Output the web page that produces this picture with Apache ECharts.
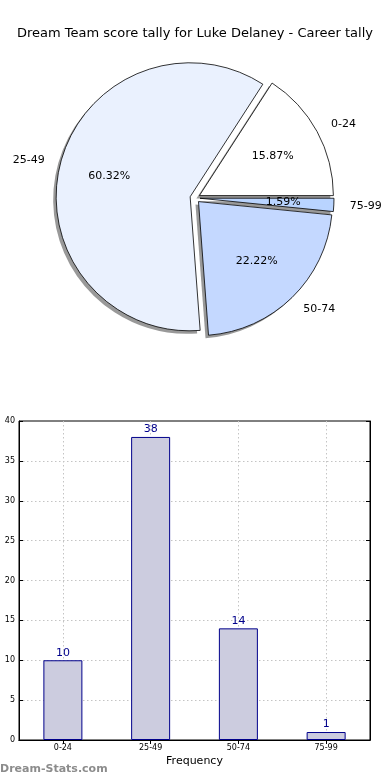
<!DOCTYPE html>
<html>
<head>
<meta charset="utf-8">
<script src="https://cdn.jsdelivr.net/npm/echarts@6/dist/echarts.min.js"></script>
<style>
html,body{margin:0;padding:0;background:#fff;}
#main{width:390px;height:780px;}
</style>
</head>
<body>
<div id="main"></div>
<script>
var titleText = 'Dream Team score tally for Luke Delaney - Career tally';
var categories = ['0-24', '25-49', '50-74', '75-99'];
var counts = [10, 38, 14, 1];
var sliceColors = ['#ffffff', '#eaf1fe', '#c4d8ff', '#b9d4ff'];
var yTicks = [0, 5, 10, 15, 20, 25, 30, 35, 40];
var xAxisName = 'Frequency';
var watermark = 'Dream-Stats.com';

var total = counts.reduce(function (a, b) { return a + b; }, 0);
var font = 'DejaVu Sans';
var R = 134;
var C = [195, 198];

function pieItems(withColor) {
  return categories.map(function (c, i) {
    var d = { name: c, value: counts[i], selected: true };
    if (withColor) d.itemStyle = { color: sliceColors[i] };
    return d;
  });
}

var pieBase = {
  type: 'pie',
  startAngle: 0,
  clockwise: false,
  selectedMode: 'multiple',
  selectedOffset: 5,
  avoidLabelOverlap: false,
  silent: true,
  emphasis: { disabled: true }
};

var chart = echarts.init(document.getElementById('main'), null, { renderer: 'canvas' });
chart.setOption({
  animation: false,
  backgroundColor: '#ffffff',
  title: {
    text: titleText,
    left: 'center',
    top: 22,
    textStyle: { fontFamily: font, fontSize: 13, fontWeight: 'normal', color: '#000' }
  },
  graphic: [{
    type: 'text', left: 0, top: 764,
    style: { text: watermark, fontFamily: font, fontSize: 11, fontWeight: 'bold', fill: '#8c8c8c' }
  }],
  grid: { left: 19, right: 20, top: 421, bottom: 40, show: true, borderColor: '#000', borderWidth: 1, backgroundColor: 'transparent' },
  xAxis: [{
    type: 'category',
    data: categories,
    boundaryGap: true,
    axisLine: { show: true, lineStyle: { color: '#000', width: 1 } },
    axisTick: { show: true, alignWithLabel: true, inside: true, length: 4, lineStyle: { color: '#000' } },
    axisLabel: { fontFamily: font, fontSize: 8, color: '#000', margin: 4 },
    splitLine: { show: true, alignWithLabel: true, lineStyle: { color: '#c4c4c4', type: [1.5, 2.5], width: 1 } },
    name: xAxisName,
    nameLocation: 'middle',
    nameGap: 16,
    nameTextStyle: { fontFamily: font, fontSize: 11, color: '#000' }
  }, {
    type: 'category',
    data: categories,
    position: 'top',
    boundaryGap: true,
    axisLine: { show: true, lineStyle: { color: '#000', width: 1 } },
    axisTick: { show: true, alignWithLabel: true, inside: true, length: 4, lineStyle: { color: '#000' } },
    axisLabel: { show: false },
    splitLine: { show: false }
  }],
  yAxis: [{
    type: 'value',
    min: yTicks[0],
    max: yTicks[yTicks.length - 1],
    interval: yTicks[1] - yTicks[0],
    axisLine: { show: true, lineStyle: { color: '#000', width: 1 } },
    axisTick: { show: true, inside: true, length: 4, lineStyle: { color: '#000' } },
    axisLabel: { fontFamily: font, fontSize: 8, color: '#000', margin: 4 },
    splitLine: { show: true, showMaxLine: false, showMinLine: false, lineStyle: { color: '#c4c4c4', type: [1.5, 2.5], width: 1 } }
  }, {
    type: 'value',
    position: 'right',
    min: yTicks[0],
    max: yTicks[yTicks.length - 1],
    interval: yTicks[1] - yTicks[0],
    axisLine: { show: true, lineStyle: { color: '#000', width: 1 } },
    axisTick: { show: true, inside: true, length: 4, lineStyle: { color: '#000' } },
    axisLabel: { show: false },
    splitLine: { show: false }
  }],
  series: [
    Object.assign({}, pieBase, {
      name: 'shadow',
      center: [C[0] - 3, C[1] + 3],
      radius: [0, R],
      itemStyle: { color: 'rgba(70,70,70,0.55)', borderWidth: 0 },
      label: { show: false },
      labelLine: { show: false },
      data: pieItems(false)
    }),
    Object.assign({}, pieBase, {
      name: 'slices',
      center: C,
      radius: [0, R],
      itemStyle: { borderColor: '#000', borderWidth: 0.8 },
      label: {
        show: true, position: 'outside', formatter: '{b}',
        fontFamily: font, fontSize: 11, color: '#000', distanceToLabelLine: 0
      },
      labelLine: { show: false, length: 16, length2: 0 },
      data: pieItems(true)
    }),
    Object.assign({}, pieBase, {
      name: 'pct',
      center: C,
      radius: [0, R * 1.2],
      itemStyle: { color: 'rgba(0,0,0,0)', borderWidth: 0 },
      label: {
        show: true, position: 'inner',
        formatter: function (p) { return (p.value / total * 100).toFixed(2) + '%'; },
        fontFamily: font, fontSize: 11, color: '#000'
      },
      labelLine: { show: false },
      data: pieItems(false)
    }),
    {
      type: 'bar',
      xAxisIndex: 0,
      yAxisIndex: 0,
      data: counts,
      barWidth: 39,
      itemStyle: { color: '#ccccdf', borderColor: '#00008b', borderWidth: 1 },
      label: { show: true, position: 'top', distance: 2, fontFamily: font, fontSize: 11, color: '#00008b' },
      emphasis: { disabled: true },
      z: 1
    }
  ]
});
</script>
</body>
</html>
